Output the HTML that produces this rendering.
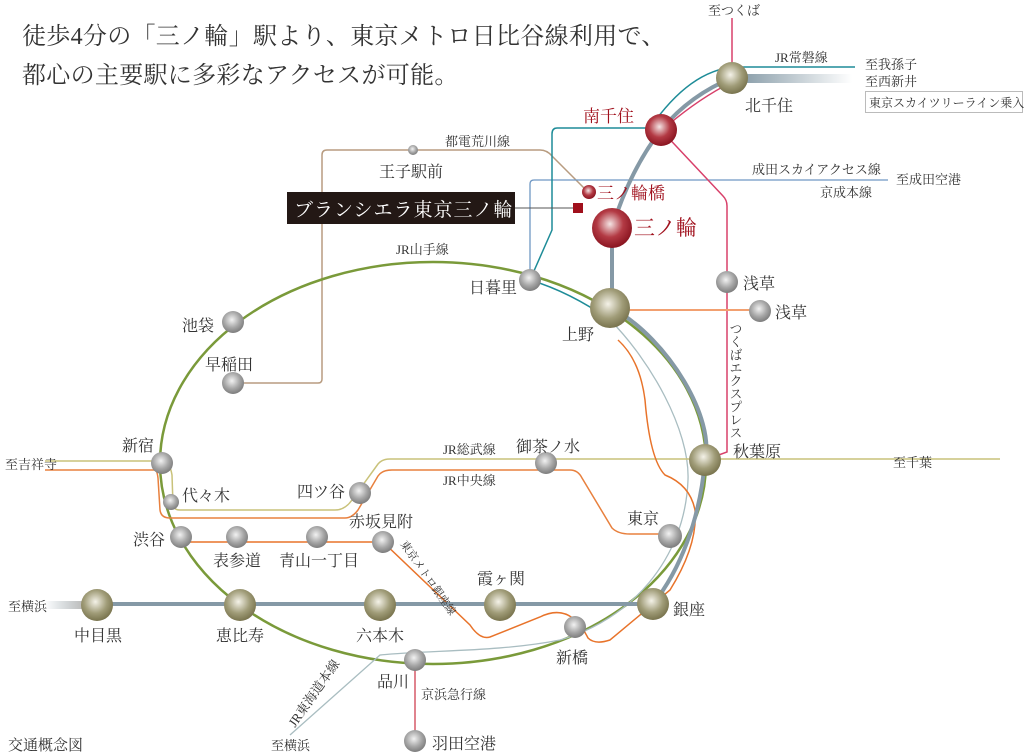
<!DOCTYPE html>
<html><head><meta charset="utf-8"><style>
html,body{margin:0;padding:0;background:#fff;}
svg{display:block;}
text{font-family:"Liberation Serif","Noto Serif CJK SC",serif;fill:#333;}
</style></head><body>
<svg width="1031" height="755" viewBox="0 0 1031 755" xmlns="http://www.w3.org/2000/svg">
<defs>
<radialGradient id="ol" cx="0.45" cy="0.4" r="0.6"><stop offset="0" stop-color="#f4f2e8"/><stop offset="0.6" stop-color="#a09c78"/><stop offset="1" stop-color="#79744e"/></radialGradient>
<radialGradient id="gr" cx="0.45" cy="0.4" r="0.6"><stop offset="0" stop-color="#f2f2f2"/><stop offset="0.6" stop-color="#a6a6a6"/><stop offset="1" stop-color="#7d7d7d"/></radialGradient>
<radialGradient id="rd" cx="0.45" cy="0.4" r="0.6"><stop offset="0" stop-color="#f4e4e4"/><stop offset="0.55" stop-color="#b33a44"/><stop offset="1" stop-color="#8a1420"/></radialGradient>
<linearGradient id="sky" x1="0" x2="1"><stop offset="0" stop-color="#7f95a2"/><stop offset="1" stop-color="#7f95a2" stop-opacity="0"/></linearGradient>
<linearGradient id="yk" x1="0" x2="1"><stop offset="0" stop-color="#8599a6" stop-opacity="0"/><stop offset="1" stop-color="#b0a8a0"/></linearGradient>
</defs>

<text x="22" y="44" font-size="24" fill="#333" letter-spacing="0.3">徒歩4分の「三ノ輪」駅より、東京メトロ日比谷線利用で、</text>
<text x="22" y="83" font-size="24" fill="#333" letter-spacing="0.3">都心の主要駅に多彩なアクセスが可能。</text>

<path d="M233,383 H318 Q322,383 322,379 V155 Q322,150 327,150 H540 Q547,150 552,156 L588,192" fill="none" stroke="#b89c80" stroke-width="1.5"/>
<path d="M888,180 H534 Q530,180 530,184 V280" fill="none" stroke="#6f98c4" stroke-width="1.3"/>
<path d="M855,67 H735 Q690,70 650,128 H557 Q552,128 552,134 V230 L530,280 Q570,292 610,320" fill="none" stroke="#1e8c98" stroke-width="1.5"/>
<path d="M732,18 V78" stroke="#d8406a" stroke-width="1.5"/>
<path d="M732,82 Q700,98 668,125" fill="none" stroke="#d8406a" stroke-width="1.5"/>
<path d="M661,130 L723,196 Q727,200 727,206 V452 L705,460" fill="none" stroke="#d8406a" stroke-width="1.5"/>
<rect x="732" y="74" width="120" height="9" fill="url(#sky)"/>

<ellipse cx="433" cy="463" rx="273" ry="201" fill="none" stroke="#7a9a3a" stroke-width="2.5"/>
<path d="M610,320 C650,360 690,430 688,480 C685,560 630,620 560,640 C500,652 430,650 380,655 L290,735" fill="none" stroke="#a9bdc1" stroke-width="1.3"/>

<path d="M45,461 H162 Q170,462 172,475 L173,505 Q174,510 180,510 H335 Q345,510 352,500 L378,464 Q382,459 390,459 H1000" fill="none" stroke="#c9c27a" stroke-width="1.5"/>
<path d="M45,470 H155 Q157,470 158,478 L160,510 Q161,518 170,518 H345 Q352,518 358,510 L378,476 Q382,470 392,470 H570 Q578,470 582,478 L612,528 Q618,534 630,534 H670" fill="none" stroke="#e8803e" stroke-width="1.5"/>

<path d="M610,310 H760" stroke="#f2a070" stroke-width="2"/>
<path d="M618,340 Q640,360 645,400 Q650,460 665,475 Q690,485 695,510 Q698,545 670,590 L610,640 Q595,645 588,638 Q570,602 540,617 L490,637 Q480,640 470,625 L383,542 H180" fill="none" stroke="#e8732a" stroke-width="1.5"/>

<path d="M732,78 Q690,95 661,130 Q630,170 612,228 V308 C670,340 715,420 705,460 C700,520 680,570 653,604 H97" fill="none" stroke="#8599a6" stroke-width="4"/>
<rect x="45" y="601" width="52" height="8" fill="url(#yk)"/>

<path d="M415,660 V741" stroke="#d04050" stroke-width="1.3"/>

<path d="M514,208 H578" stroke="#555" stroke-width="1"/>
<rect x="573" y="203" width="10" height="10" fill="#a0101c"/>
<rect x="287" y="192" width="228" height="32" fill="#231815"/>
<text x="294" y="216" font-size="19" fill="#fff" style="fill:#fff" letter-spacing="1">ブランシエラ東京三ノ輪</text>

<g>
<circle cx="732" cy="78" r="16" fill="url(#ol)"/>
<circle cx="661" cy="130" r="16" fill="url(#rd)"/>
<circle cx="589" cy="192" r="7" fill="url(#rd)"/>
<circle cx="612" cy="228" r="20" fill="url(#rd)"/>
<circle cx="413" cy="150" r="5" fill="url(#gr)"/>
<circle cx="530" cy="280" r="11" fill="url(#gr)"/>
<circle cx="610" cy="308" r="20" fill="url(#ol)"/>
<circle cx="727" cy="282" r="11" fill="url(#gr)"/>
<circle cx="760" cy="311" r="11" fill="url(#gr)"/>
<circle cx="705" cy="460" r="16" fill="url(#ol)"/>
<circle cx="670" cy="536" r="12" fill="url(#gr)"/>
<circle cx="653" cy="604" r="16" fill="url(#ol)"/>
<circle cx="575" cy="627" r="11" fill="url(#gr)"/>
<circle cx="415" cy="660" r="11" fill="url(#gr)"/>
<circle cx="415" cy="741" r="11" fill="url(#gr)"/>
<circle cx="500" cy="605" r="16" fill="url(#ol)"/>
<circle cx="380" cy="605" r="16" fill="url(#ol)"/>
<circle cx="240" cy="605" r="16" fill="url(#ol)"/>
<circle cx="97" cy="605" r="16" fill="url(#ol)"/>
<circle cx="181" cy="537" r="11" fill="url(#gr)"/>
<circle cx="237" cy="537" r="11" fill="url(#gr)"/>
<circle cx="317" cy="537" r="11" fill="url(#gr)"/>
<circle cx="383" cy="542" r="11" fill="url(#gr)"/>
<circle cx="360" cy="493" r="11" fill="url(#gr)"/>
<circle cx="546" cy="463" r="11" fill="url(#gr)"/>
<circle cx="162" cy="463" r="11" fill="url(#gr)"/>
<circle cx="171" cy="502" r="8" fill="url(#gr)"/>
<circle cx="233" cy="322" r="11" fill="url(#gr)"/>
<circle cx="233" cy="383" r="11" fill="url(#gr)"/>
</g>

<g font-size="16">
<text x="708" y="15" font-size="13">至つくば</text>
<text x="775" y="62" font-size="13">JR常磐線</text>
<text x="865" y="69" font-size="13">至我孫子</text>
<text x="865" y="86" font-size="13">至西新井</text>
<rect x="865.5" y="91.5" width="157" height="21" fill="none" stroke="#bbb"/>
<text x="869" y="107" font-size="12">東京スカイツリーライン乗入</text>
<text x="745" y="111">北千住</text>
<text x="583" y="122" fill="#a0101c" style="fill:#a0101c" font-size="17">南千住</text>
<text x="752" y="174" font-size="13">成田スカイアクセス線</text>
<text x="820" y="197" font-size="13">京成本線</text>
<text x="896" y="184" font-size="13">至成田空港</text>
<text x="597" y="199" fill="#a0101c" style="fill:#a0101c" font-size="17">三ノ輪橋</text>
<text x="634" y="235" fill="#a0101c" style="fill:#a0101c" font-size="21">三ノ輪</text>
<text x="445" y="146" font-size="13">都電荒川線</text>
<text x="379" y="177">王子駅前</text>
<text x="396" y="254" font-size="13">JR山手線</text>
<text x="469" y="293">日暮里</text>
<text x="562" y="340">上野</text>
<text x="743" y="289">浅草</text>
<text x="775" y="318">浅草</text>
<text x="735" y="322" font-size="13" style="writing-mode:tb">つくばエクスプレス</text>
<text x="733" y="457">秋葉原</text>
<text x="893" y="467" font-size="13">至千葉</text>
<text x="627" y="524">東京</text>
<text x="673" y="615">銀座</text>
<text x="556" y="663">新橋</text>
<text x="377" y="687">品川</text>
<text x="421" y="699" font-size="13">京浜急行線</text>
<text x="432" y="749">羽田空港</text>
<text x="271" y="750" font-size="13">至横浜</text>
<text x="0" y="0" font-size="13" transform="translate(295,728) rotate(-55)">JR東海道本線</text>
<text x="477" y="584">霞ヶ関</text>
<text x="356" y="641">六本木</text>
<text x="216" y="641">恵比寿</text>
<text x="74" y="641">中目黒</text>
<text x="8" y="611" font-size="13">至横浜</text>
<text x="8" y="750" font-size="15">交通概念図</text>
<text x="133" y="545">渋谷</text>
<text x="213" y="566">表参道</text>
<text x="279" y="566">青山一丁目</text>
<text x="349" y="527">赤坂見附</text>
<text x="0" y="0" font-size="11" transform="translate(400,544) rotate(55)">東京メトロ銀座線</text>
<text x="297" y="497">四ツ谷</text>
<text x="516" y="452">御茶ノ水</text>
<text x="443" y="454" font-size="13">JR総武線</text>
<text x="443" y="485" font-size="13">JR中央線</text>
<text x="122" y="451">新宿</text>
<text x="5" y="469" font-size="13">至吉祥寺</text>
<text x="182" y="501">代々木</text>
<text x="182" y="331">池袋</text>
<text x="205" y="370">早稲田</text>
</g>
</svg>
</body></html>
